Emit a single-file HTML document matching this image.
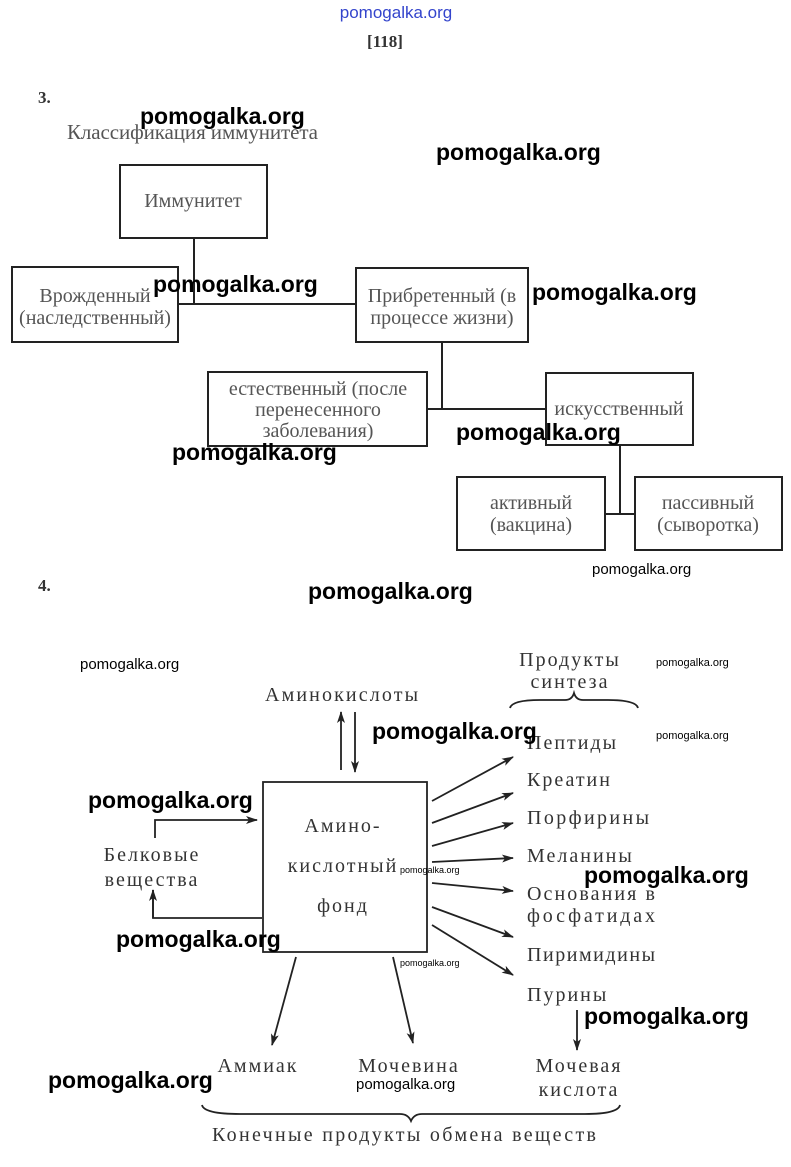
<!DOCTYPE html>
<html><head><meta charset="utf-8"><style>
html,body{margin:0;padding:0;background:#fff;}
svg{display:block}
.s{font-family:"Liberation Serif",serif;fill:#555;}
.b{font-family:"Liberation Serif",serif;fill:#333;letter-spacing:2px;font-size:20px}
.w{font-family:"Liberation Sans",sans-serif;font-weight:bold;fill:#000;}
</style></head><body>
<svg width="791" height="1167" viewBox="0 0 791 1167" xmlns="http://www.w3.org/2000/svg">
<defs><marker id="a" markerWidth="12" markerHeight="8" refX="11" refY="4" orient="auto" markerUnits="userSpaceOnUse"><path d="M0,0 L12,4 L0,8 L3,4z" fill="#222"/></marker></defs>
<text x="396" y="18" text-anchor="middle" font-family="Liberation Sans,sans-serif" font-size="17" fill="#3344cc">pomogalka.org</text>
<text x="385" y="47" text-anchor="middle" font-family="Liberation Serif,serif" font-weight="bold" font-size="17" fill="#333">[118]</text>
<text x="38" y="103" font-family="Liberation Serif,serif" font-weight="bold" font-size="17" fill="#333">3.</text>
<text x="67" y="139" class="s" font-size="21" textLength="251">Классификация иммунитета</text>
<g fill="none" stroke="#222" stroke-width="2">
<rect x="120" y="165" width="147" height="73"/>
<rect x="12" y="267" width="166" height="75"/>
<rect x="356" y="268" width="172" height="74"/>
<rect x="208" y="372" width="219" height="74"/>
<rect x="546" y="373" width="147" height="72"/>
<rect x="457" y="477" width="148" height="73"/>
<rect x="635" y="477" width="147" height="73"/>
<path d="M194,238V304M178,304H356M442,342V409M427,409H546M620,445V514M605,514H635"/>
</g>
<g class="s" font-size="20" text-anchor="middle">
<text x="193" y="207">Иммунитет</text>
<text x="95" y="302">Врожденный</text><text x="95" y="324">(наследственный)</text>
<text x="442" y="302">Прибретенный (в</text><text x="442" y="324">процессе жизни)</text>
<text x="318" y="395">естественный (после</text><text x="318" y="416">перенесенного</text><text x="318" y="437">заболевания)</text>
<text x="619" y="415">искусственный</text>
<text x="531" y="509">активный</text><text x="531" y="531">(вакцина)</text>
<text x="708" y="509">пассивный</text><text x="708" y="531">(сыворотка)</text>
</g>
<text x="38" y="591" font-family="Liberation Serif,serif" font-weight="bold" font-size="17" fill="#333">4.</text>
<g fill="none" stroke="#222" stroke-width="1.8">
<rect x="263" y="782" width="164" height="170"/>
<line x1="341" y1="770" x2="341" y2="712" marker-end="url(#a)"/>
<line x1="355" y1="712" x2="355" y2="772" marker-end="url(#a)"/>
<line x1="432" y1="801" x2="513" y2="757" marker-end="url(#a)"/>
<line x1="432" y1="823" x2="513" y2="793" marker-end="url(#a)"/>
<line x1="432" y1="846" x2="513" y2="823" marker-end="url(#a)"/>
<line x1="432" y1="862" x2="513" y2="858" marker-end="url(#a)"/>
<line x1="432" y1="883" x2="513" y2="891" marker-end="url(#a)"/>
<line x1="432" y1="907" x2="513" y2="937" marker-end="url(#a)"/>
<line x1="432" y1="925" x2="513" y2="975" marker-end="url(#a)"/>
<line x1="577" y1="1010" x2="577" y2="1050" marker-end="url(#a)"/>
<line x1="296" y1="957" x2="272" y2="1045" marker-end="url(#a)"/>
<line x1="393" y1="957" x2="413" y2="1043" marker-end="url(#a)"/>
<path d="M155,838V820H257" marker-end="url(#a)"/>
<path d="M262,918H153V890"/>
<line x1="153" y1="918" x2="153" y2="890" marker-end="url(#a)"/>
<path d="M510,708Q512,700 540,700H565Q572,700 574,693Q576,700 583,700H608Q636,700 638,708"/>
<path d="M202,1105Q204,1114 240,1114H400Q408,1114 411,1121Q414,1114 422,1114H585Q618,1114 620,1105"/>
</g>
<g class="b">
<text x="265" y="701" textLength="155">Аминокислоты</text>
<text x="570" y="666" text-anchor="middle">Продукты</text>
<text x="570" y="688" text-anchor="middle">синтеза</text>
<text x="527" y="749">Пептиды</text>
<text x="527" y="786">Креатин</text>
<text x="527" y="824" textLength="124">Порфирины</text>
<text x="527" y="862">Меланины</text>
<text x="527" y="900" textLength="130">Основания в</text>
<text x="527" y="922" textLength="130">фосфатидах</text>
<text x="527" y="961" textLength="130">Пиримидины</text>
<text x="527" y="1001">Пурины</text>
<text x="343" y="832" text-anchor="middle">Амино-</text>
<text x="343" y="872" text-anchor="middle">кислотный</text>
<text x="343" y="912" text-anchor="middle">фонд</text>
<text x="152" y="861" text-anchor="middle">Белковые</text>
<text x="152" y="886" text-anchor="middle">вещества</text>
<text x="258" y="1072" text-anchor="middle">Аммиак</text>
<text x="409" y="1072" text-anchor="middle">Мочевина</text>
<text x="579" y="1072" text-anchor="middle">Мочевая</text>
<text x="579" y="1096" text-anchor="middle">кислота</text>
<text x="212" y="1141" textLength="386">Конечные продукты обмена веществ</text>
</g>
<g class="w">
<text x="140" y="124" font-size="23">pomogalka.org</text>
<text x="436" y="160" font-size="23">pomogalka.org</text>
<text x="153" y="292" font-size="23">pomogalka.org</text>
<text x="532" y="300" font-size="23">pomogalka.org</text>
<text x="456" y="440" font-size="23">pomogalka.org</text>
<text x="172" y="460" font-size="23">pomogalka.org</text>
<text x="592" y="574" font-size="15" font-weight="normal">pomogalka.org</text>
<text x="308" y="599" font-size="23">pomogalka.org</text>
<text x="80" y="669" font-size="15" font-weight="normal">pomogalka.org</text>
<text x="656" y="666" font-size="11" font-weight="normal">pomogalka.org</text>
<text x="656" y="739" font-size="11" font-weight="normal">pomogalka.org</text>
<text x="372" y="739" font-size="23">pomogalka.org</text>
<text x="88" y="808" font-size="23">pomogalka.org</text>
<text x="400" y="873" font-size="9" font-weight="normal">pomogalka.org</text>
<text x="584" y="883" font-size="23">pomogalka.org</text>
<text x="116" y="947" font-size="23">pomogalka.org</text>
<text x="400" y="966" font-size="9" font-weight="normal">pomogalka.org</text>
<text x="584" y="1024" font-size="23">pomogalka.org</text>
<text x="48" y="1088" font-size="23">pomogalka.org</text>
<text x="356" y="1089" font-size="15" font-weight="normal">pomogalka.org</text>
</g>
</svg>
</body></html>
